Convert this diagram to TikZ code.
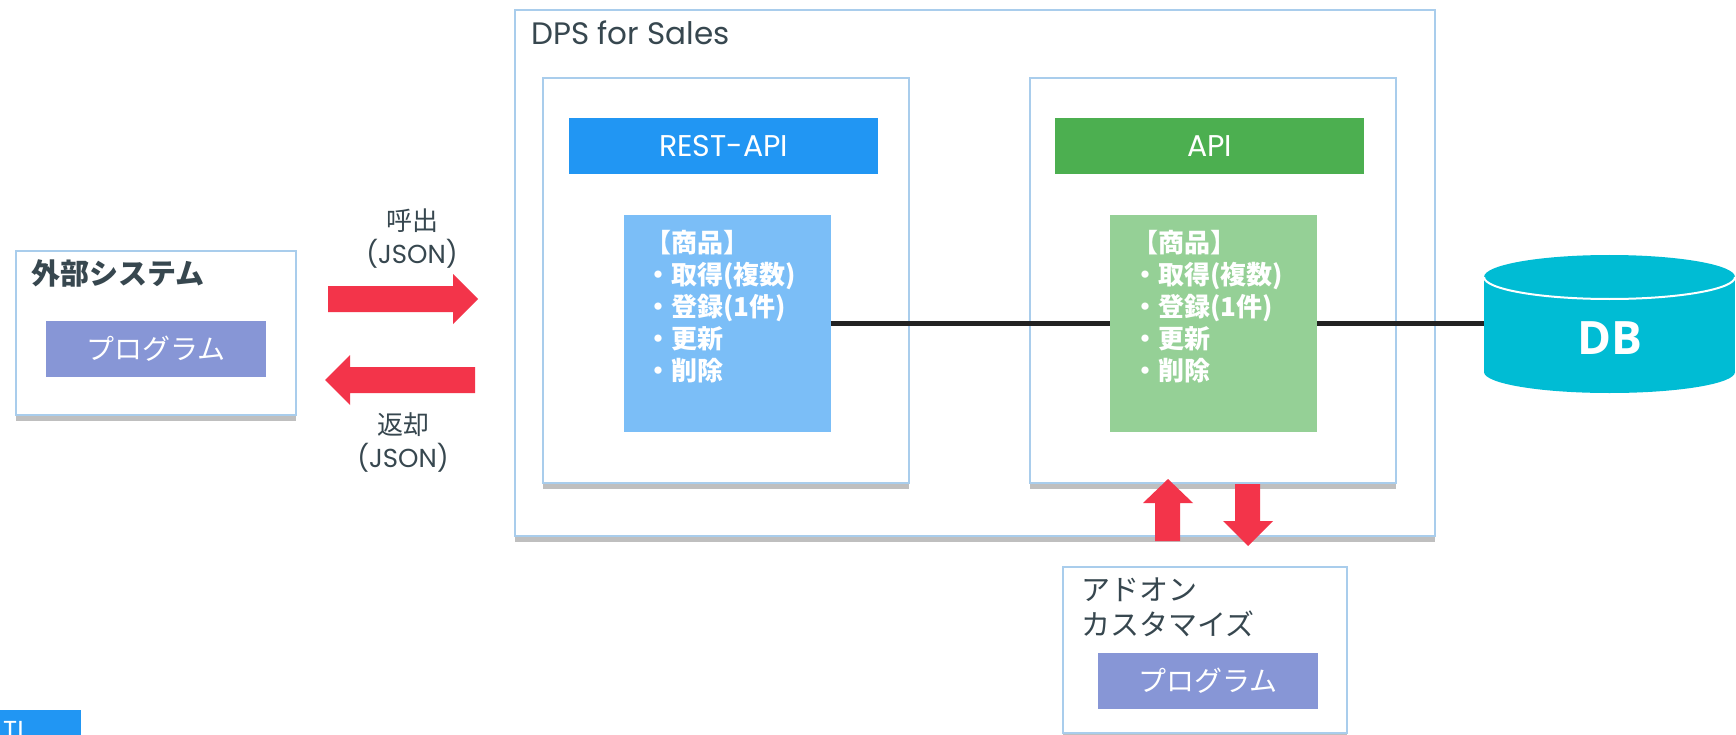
\documentclass[tikz,border=0pt]{standalone}
\usepackage{fontspec}
\setmainfont{Noto Sans CJK JP}
\newfontfamily\latinfont{Poppins}
\newfontfamily\dbfont{Open Sans}
\usepackage{tikz}
\usetikzlibrary{shadows}
\definecolor{textdark}{HTML}{37474F}
\definecolor{panelborder}{HTML}{A9CDEC}
\definecolor{restblue}{HTML}{2196F3}
\definecolor{restlight}{HTML}{7BBEF7}
\definecolor{apigreen}{HTML}{4CAF50}
\definecolor{apilight}{HTML}{95D096}
\definecolor{progblue}{HTML}{8796D6}
\definecolor{arrowred}{HTML}{F3344A}
\definecolor{dbcyan}{HTML}{00BCD4}
\definecolor{linkgray}{HTML}{222222}
\newcommand{\fs}[1]{\fontsize{#1}{#1}\selectfont}

\begin{document}
\begin{tikzpicture}[x=1pt,y=-1pt,
       panel/.style={draw=panelborder,line width=2.5pt,fill=white,inner sep=0pt,
         drop shadow={shadow xshift=0pt,shadow yshift=-6pt,fill=black,opacity=0.25}},
       header/.style={inner sep=0pt,minimum width=309pt,minimum height=56pt,
         text=white,font=\latinfont\fs{30}},
       listbox/.style={inner sep=0pt,minimum width=207pt,minimum height=217pt},
       listtext/.style={anchor=north west,inner sep=0pt,align=left,text=white,
         font=\bfseries\fontsize{26}{32}\selectfont},
       prog/.style={fill=progblue,inner sep=0pt,minimum width=220pt,
         minimum height=56pt,text=white,font=\fs{28}},
       title/.style={anchor=west,inner sep=0pt,text=textdark},
       callout/.style={inner sep=0pt,text=textdark,align=center,
         font=\fontsize{26}{33}\selectfont},
       bigarrow/.style={fill=arrowred},
       link/.style={draw=linkgray,line width=4.5pt}]
       \fill[white] (0,0) rectangle (1736,735);
       \node[panel,minimum width=920pt,minimum height=526pt] (dps) at (975,273) {};
       \node[title,font=\latinfont\fs{31}] (dpsTitle) at (531,33) {DPS for Sales};
       \node[panel,minimum width=366pt,minimum height=405pt] (restPanel) at (726,280.5) {};
       \node[panel,minimum width=366pt,minimum height=405pt] (apiPanel) at (1213,280.5) {};
       \node[header,fill=restblue] (restHead) at (723.5,146) {REST-API};
       \node[header,fill=apigreen] (apiHead) at (1209.5,146) {API};
       \node[listbox,fill=restlight] (restBox) at (727,323.5) {};
       \node[listbox,fill=apilight] (apiBox) at (1213.5,323.5) {};
       \node[listtext] at (645,230) {【商品】\\・取得(複数)\\・登録(1件)\\・更新\\・削除};
       \node[listtext] at (1132,230) {【商品】\\・取得(複数)\\・登録(1件)\\・更新\\・削除};
       \node[panel,minimum width=280pt,minimum height=164pt] (ext) at (156,333) {};
       \node[title,font=\bfseries\fs{29}] (extTitle) at (31,273) {外部システム};
       \node[prog] (extProg) at (156,348.5) {プログラム};
       \node[panel,minimum width=284pt,minimum height=166pt] (addon) at (1205,650) {};
       \node[title,font=\fontsize{29}{35}\selectfont,align=left] (addonTitle) at (1081,607.5) {アドオン\\カスタマイズ};
       \node[prog] (addonProg) at (1208,681) {プログラム};
       \fill[dbcyan] (1484,277) rectangle (1735,372);
       \fill[dbcyan] (1609.5,372) ellipse[x radius=125.5,y radius=21];
       \fill[dbcyan] (1609.5,277) ellipse[x radius=125.5,y radius=22];
       \draw[white,line width=2pt] (1484,277) arc[start angle=180,end angle=0,x radius=125.5,y radius=22];
       \node[inner sep=0pt,minimum width=251pt,text=white,font=\dbfont\bfseries\fs{46}] (db) at (1609.5,338) {DB};
       \draw[link] (restBox.east) -- (apiBox.west);
       \draw[link] (apiBox.east) -- (apiBox.east -| db.west);
       \fill[bigarrow] (328,286) -- (453,286) -- (453,274) -- (478,299) -- (453,324) -- (453,312) -- (328,312) -- cycle;
       \fill[bigarrow] (475,367) -- (350,367) -- (350,355) -- (325,380) -- (350,405) -- (350,393) -- (475,393) -- cycle;
       \fill[bigarrow] (1155,541) -- (1155,503) -- (1143,503) -- (1168,479) -- (1193,503) -- (1180,503) -- (1180,541) -- cycle;
       \fill[bigarrow] (1235,484) -- (1235,521) -- (1223,521) -- (1248,546) -- (1273,521) -- (1260,521) -- (1260,484) -- cycle;
       \node[callout] (callLabel) at (412,238.5) {呼出\\{\latinfont(JSON)}};
       \node[callout] (returnLabel) at (403,442.5) {返却\\{\latinfont(JSON)}};
       \begin{scope}
         \clip (0,710) rectangle (81,735);
         \fill[restblue] (0,710) rectangle (81,735);
         \node[anchor=north west,inner sep=0pt,text=white,font=\latinfont\fs{26}] (cutText) at (3,721) {TI};
       \end{scope}
      \end{tikzpicture}
\end{document}
